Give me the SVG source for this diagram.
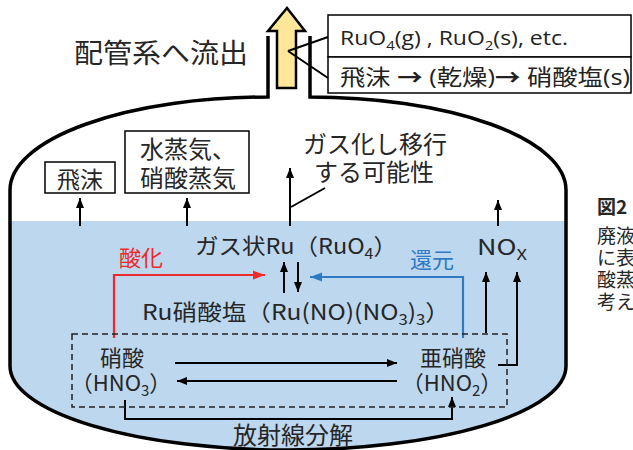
<svg xmlns="http://www.w3.org/2000/svg" width="633" height="450" viewBox="0 0 633 450">
<defs>
<marker id="ah" markerUnits="userSpaceOnUse" markerWidth="10" markerHeight="10" viewBox="0 0 10 10" refX="10" refY="5" orient="auto"><path d="M0,1 L10,5 L0,9 Z" fill="#000"/></marker>
<marker id="ahr" markerUnits="userSpaceOnUse" markerWidth="12" markerHeight="10" viewBox="0 0 12 10" refX="12" refY="5" orient="auto"><path d="M0,0.5 L12,5 L0,9.5 Z" fill="#EE2A2A"/></marker>
<marker id="ahb" markerUnits="userSpaceOnUse" markerWidth="12" markerHeight="10" viewBox="0 0 12 10" refX="12" refY="5" orient="auto"><path d="M0,0.5 L12,5 L0,9.5 Z" fill="#2E7BC4"/></marker>
</defs>
<style>
.t{font-family:"Noto Sans CJK JP","Noto Sans",sans-serif;fill:#262626}
.c{font-family:"Open Sans","Noto Sans","Noto Sans CJK JP",sans-serif;fill:#222}
.ln{fill:none;stroke:#000;stroke-width:2}
.box{fill:#fff;stroke:#000;stroke-width:1.5}
</style>
<rect width="633" height="450" fill="#fff"/>
<g id="vessel">
<path d="M10,221 H566 V366 A278 84 0 0 1 10,366 Z" fill="#BDD7EE"/>
<path d="M268,36 V97 A258 93 0 0 0 10,190 V366 A278 84 0 0 0 566,366 V190 A256 93 0 0 0 310,97 V36" fill="none" stroke="#000" stroke-width="3.5"/>
</g>
<g id="outflow-arrow">
<polygon points="287,8 305,31 296,31 296,88 277,88 277,31 268,31" fill="#FFE699" stroke="#000" stroke-width="2.5" stroke-linejoin="miter"/>
</g>
<g id="outflow-label"><text class="t" x="74" y="63" font-size="27" textLength="174" lengthAdjust="spacingAndGlyphs">配管系へ流出</text></g>
<g id="callout">
<rect class="box" x="328" y="15" width="303" height="42"/>
<rect class="box" x="328" y="57" width="303" height="36"/>
<text class="c" x="340" y="45" font-size="20" textLength="228" lengthAdjust="spacingAndGlyphs">RuO<tspan font-size="13" dy="5">4</tspan><tspan dy="-5">(g) , RuO</tspan><tspan font-size="13" dy="5">2</tspan><tspan dy="-5">(s), etc.</tspan></text>
<text class="c" x="340" y="85" font-size="22" textLength="290" lengthAdjust="spacingAndGlyphs">飛沫 <tspan font-weight="bold">→</tspan> (乾燥)<tspan font-weight="bold">→</tspan> 硝酸塩(s)</text>
</g>
<g id="connectors">
<path class="ln" d="M288,51 L328,37 M288,51 L328,78" stroke-width="1.5"/>
<path class="ln" d="M80,226 V198" marker-end="url(#ah)"/>
<path class="ln" d="M187,226 V198" marker-end="url(#ah)"/>
<path class="ln" d="M290,226 V168" marker-end="url(#ah)"/>
<path class="ln" d="M498,226 V200" marker-end="url(#ah)"/>
<path class="ln" d="M291,207 L325,188" stroke-width="1.5"/>
<path d="M114,338 V275 H265" fill="none" stroke="#EE2A2A" stroke-width="2.2" marker-end="url(#ahr)"/>
<path d="M463,338 V277 H310" fill="none" stroke="#2E7BC4" stroke-width="2.2" marker-end="url(#ahb)"/>
<path class="ln" d="M284,293 V262" marker-end="url(#ah)"/>
<path class="ln" d="M298,262 V292" marker-end="url(#ah)"/>
<path class="ln" d="M175,363 H397" marker-end="url(#ah)"/>
<path class="ln" d="M397,381 H177" marker-end="url(#ah)"/>
<path class="ln" d="M125,400 V419 H452 V397" marker-end="url(#ah)"/>
<path class="ln" d="M486,333 V272" marker-end="url(#ah)"/>
<path class="ln" d="M498,365 H517 V272" marker-end="url(#ah)"/>
</g>
<g id="spray">
<rect class="box" x="45" y="162" width="70" height="31"/>
<text class="t" x="80" y="188" font-size="23" text-anchor="middle">飛沫</text>
</g>
<g id="vapor">
<rect class="box" x="125" y="131" width="124" height="62"/>
<text class="t" x="188" y="158" font-size="24" text-anchor="middle">水蒸気、</text>
<text class="t" x="188" y="187" font-size="24" text-anchor="middle">硝酸蒸気</text>
</g>
<g id="gasify-note">
<text class="t" x="375" y="153" font-size="24" text-anchor="middle">ガス化し移行</text>
<text class="t" x="374" y="181" font-size="24" text-anchor="middle">する可能性</text>
</g>
<g id="ruo4"><text class="t" x="195" y="254" font-size="22" textLength="202" lengthAdjust="spacingAndGlyphs">ガス状Ru（RuO<tspan font-size="15" dy="5">4</tspan><tspan dy="-5">）</tspan></text></g>
<g id="oxidation"><text x="141" y="266" font-size="22" text-anchor="middle" font-family="Noto Sans CJK JP, sans-serif" fill="#EE2A2A">酸化</text></g>
<g id="reduction"><text x="432" y="268" font-size="22" text-anchor="middle" font-family="Noto Sans CJK JP, sans-serif" fill="#2E7BC4">還元</text></g>
<g id="nox"><text class="t" x="477" y="255" font-size="22" textLength="50" lengthAdjust="spacingAndGlyphs">NO<tspan font-size="15" dy="5">X</tspan></text></g>
<g id="ru-nitrate"><text class="t" x="142" y="320" font-size="22" textLength="308" lengthAdjust="spacingAndGlyphs">Ru硝酸塩（Ru(NO)(NO<tspan font-size="15" dy="5">3</tspan><tspan dy="-5">)</tspan><tspan font-size="15" dy="5">3</tspan><tspan dy="-5">）</tspan></text></g>
<g id="acid-box">
<rect x="72" y="334" width="435" height="73" fill="none" stroke="#222" stroke-width="1.5" stroke-dasharray="6,4"/>
</g>
<g id="hno3">
<text class="t" x="122" y="366" font-size="22" text-anchor="middle">硝酸</text>
<text class="t" x="121" y="391" font-size="22" text-anchor="middle">（HNO<tspan font-size="15" dy="5">3</tspan><tspan dy="-5">）</tspan></text>
</g>
<g id="hno2">
<text class="t" x="453" y="366" font-size="22" text-anchor="middle">亜硝酸</text>
<text class="t" x="452" y="391" font-size="22" text-anchor="middle">（HNO<tspan font-size="15" dy="5">2</tspan><tspan dy="-5">）</tspan></text>
</g>
<g id="radiolysis"><text class="t" x="293" y="444" font-size="24" text-anchor="middle">放射線分解</text></g>
<g id="caption">
<text class="t" x="597" y="214" font-size="19" font-weight="bold">図2</text>
<text class="t" x="597" y="243" font-size="19">廃液</text>
<text class="t" x="597" y="265" font-size="19">に表</text>
<text class="t" x="597" y="287" font-size="19">酸蒸</text>
<text class="t" x="597" y="309" font-size="19">考え</text>
</g>
</svg>
